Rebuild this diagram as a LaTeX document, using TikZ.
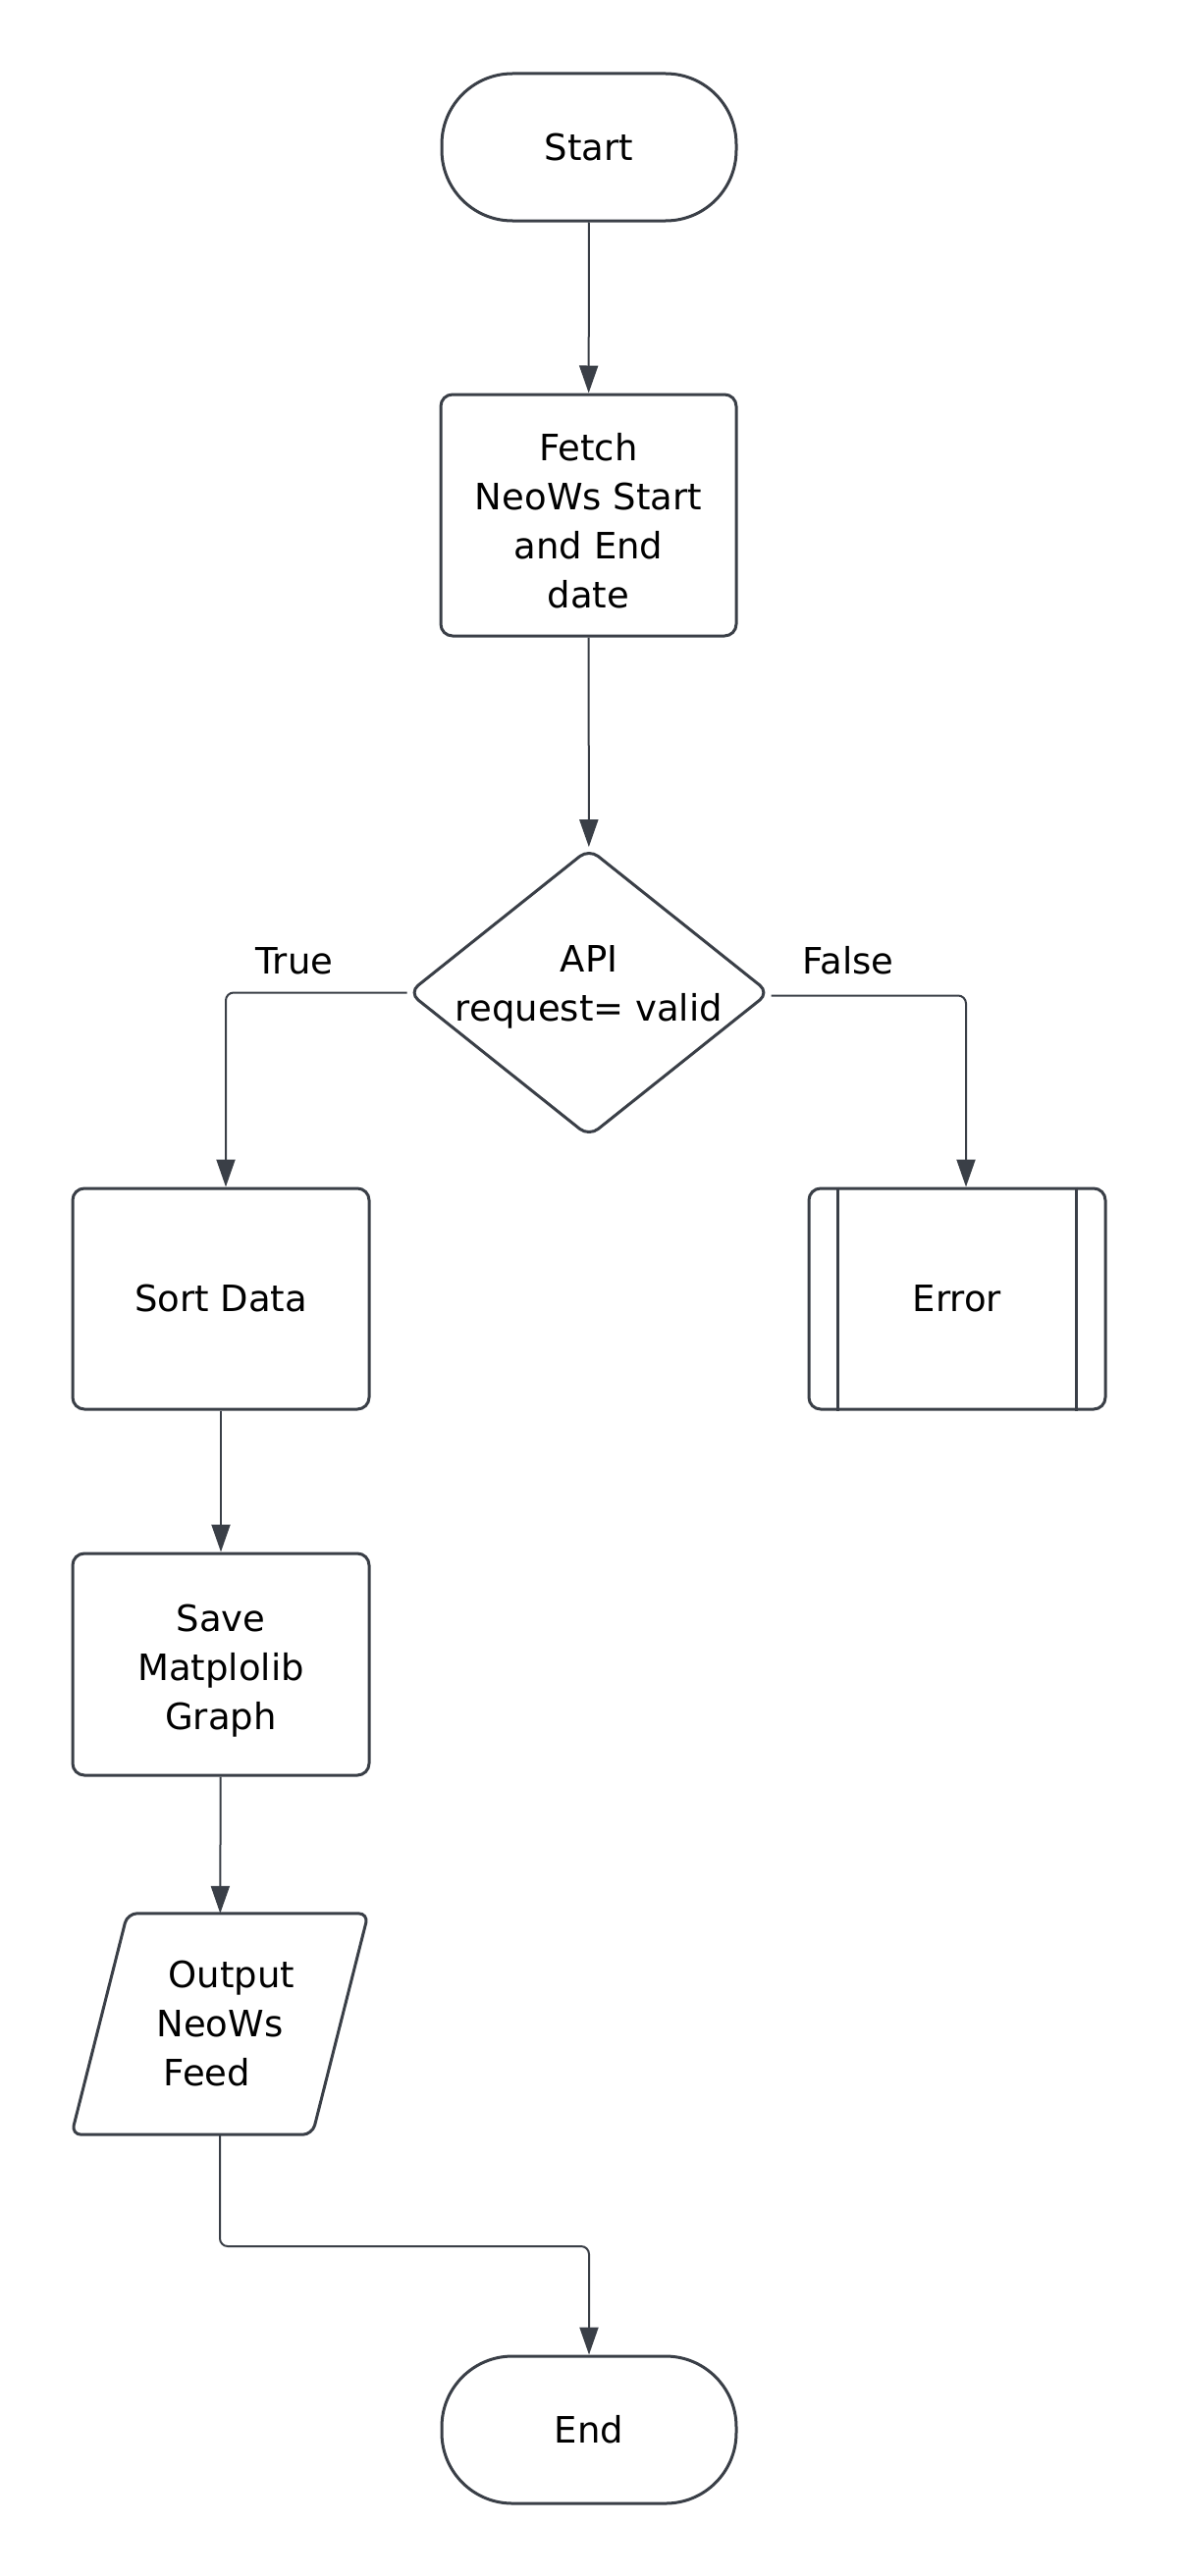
\documentclass[tikz,border=0pt]{standalone}
\usepackage{fontspec}
\setmainfont{DejaVu Sans}
\usetikzlibrary{shapes.geometric,arrows.meta}
\definecolor{ln}{HTML}{3A3F47}
\begin{document}
\begin{tikzpicture}[x=1pt,y=-1pt,
  every node/.style={font=\fontsize{37}{50}\selectfont, text=black, align=center},
  blk/.style={draw=ln, line width=3pt, rounded corners=12pt, fill=white, minimum width=302pt, minimum height=225pt, inner sep=0pt},
  term/.style={draw=ln, line width=3pt, rounded corners=72pt, fill=white, minimum width=300pt, minimum height=150pt, inner sep=0pt},
  dia/.style={draw=ln, line width=3pt, diamond, aspect=1.25, rounded corners=12pt, fill=white, minimum width=368pt, minimum height=294pt, inner sep=-7pt},
  conn/.style={draw=ln, line width=2pt, rounded corners=8pt, -{Triangle[length=28pt,width=19pt]}}
]
\useasboundingbox (0,0) rectangle (1200,2625);

\node[term] (start) at (600,150) {Start};
\node[blk, minimum width=301pt, minimum height=246pt] (fetch) at (599.5,525) {\rule{0pt}{39pt}Fetch\\NeoWs Start\\and End\\date};
\node[dia] (dia) at (600,1011.5) {API\\request= valid\rule[-18pt]{0pt}{0pt}};
\node[blk] (sort) at (225,1323.5) {Sort Data};
\node[blk] (err) at (975,1323.5) {Error};
\draw[ln, line width=3pt] ([xshift=31pt]err.north west) -- ([xshift=31pt]err.south west);
\draw[ln, line width=3pt] ([xshift=-31pt]err.north east) -- ([xshift=-31pt]err.south east);
\node[blk, minimum height=226pt, text depth=0pt] (save) at (225,1696) {\rule{0pt}{33pt}Save\\Matplolib\\Graph};
\node[minimum width=302pt, minimum height=225pt, inner sep=0pt] (out) at (224,2062.5) {\hspace*{24pt}Output\\NeoWs\\Feed\hspace*{26pt}};
\draw[ln, line width=3pt, rounded corners=10pt] ([xshift=57pt]out.north west) -- (out.north east) -- ([xshift=-57pt]out.south east) -- (out.south west) -- cycle;
\node[term] (end) at (600,2476) {End};

\node (tl) at (300,979) {True};
\node (fl) at (864,979) {False};

\coordinate (bend) at (400,2289);

\draw[conn] (start) -- (fetch);
\draw[conn] (fetch) -- (dia);
\draw[conn] (dia.west) -| ([xshift=5pt]sort.north);
\draw[conn] ([yshift=-3pt]dia.east) -| ([xshift=9pt]err.north);
\draw[conn] (sort) -- (save);
\draw[conn] (save) -- (out);
\draw[conn] (out.south) |- (bend) -| (end.north);
\end{tikzpicture}
\end{document}
